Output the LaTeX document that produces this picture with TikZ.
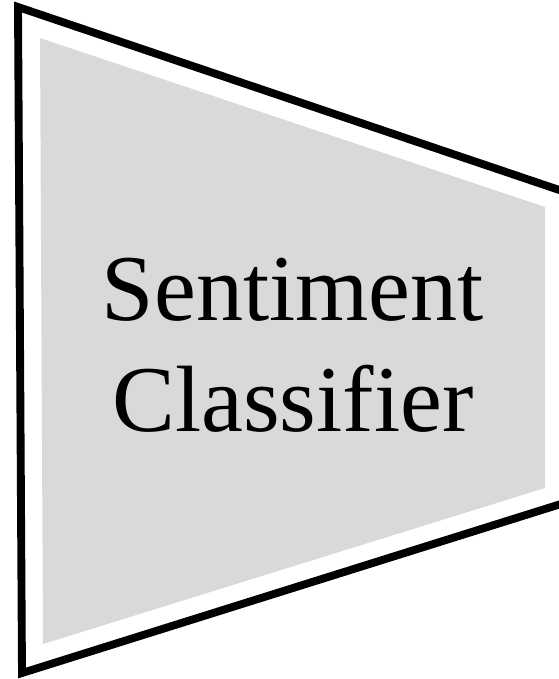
\documentclass[tikz,border=0pt]{standalone}
\usepackage{fontspec}
\setmainfont{Liberation Serif}
\usepackage{tikz}
\definecolor{panel}{RGB}{217, 217, 217}

\begin{document}
\begin{tikzpicture}[x=0.025cm, y=-0.025cm]
        \useasboundingbox (0,0) rectangle (559,679);
        % Gray inner panel
        \fill[panel] (40,38) -- (545,207) -- (545,488) -- (43,644) -- cycle;
        % Outer trapezoid outline
        \draw[black, line width=5.6pt]
          (18,7) -- (580,197) -- (580,498) -- (22,673) -- cycle;
        % Label
        \node[align=center, font=\fontsize{67}{79}\selectfont] (label) at (293,345)
          {Sentiment\\Classifier};
      \end{tikzpicture}
\end{document}
